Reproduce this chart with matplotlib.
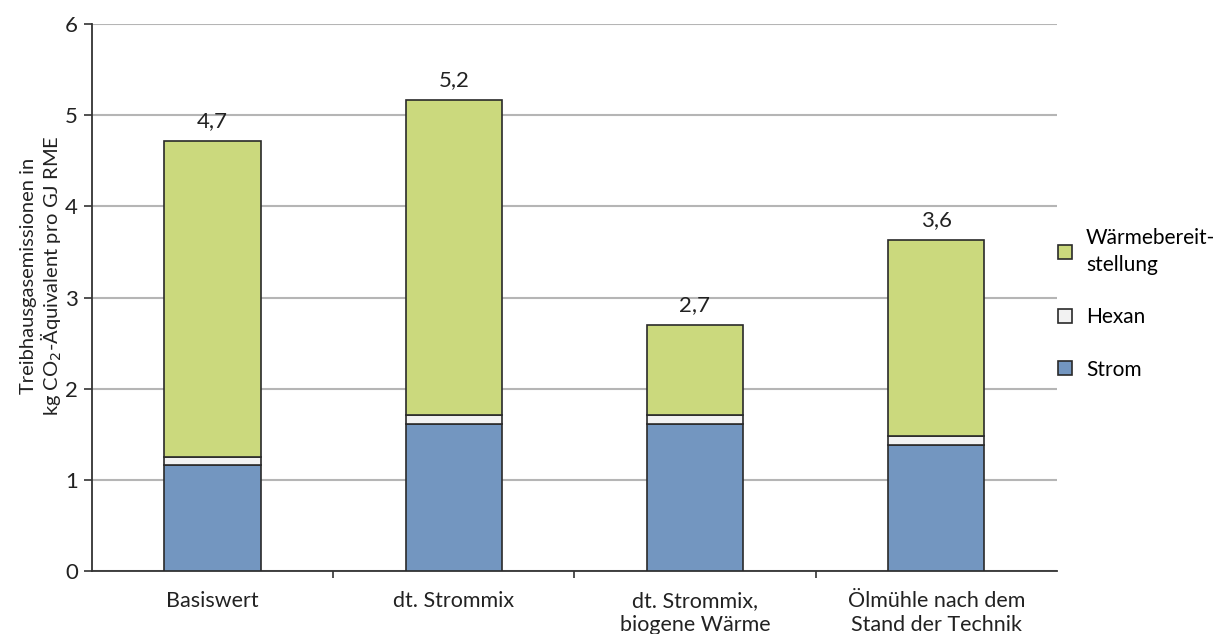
import matplotlib.pyplot as plt
from matplotlib.lines import Line2D
import numpy as np

plt.rcParams['font.family'] = ['Lato', 'DejaVu Sans']

# Szenarien und Beiträge (kg CO2-Äq. pro GJ RME)
szenarien = ["Basiswert", "dt. Strommix", "dt. Strommix,\nbiogene Wärme",
             "Ölmühle nach dem\nStand der Technik"]
strom = [1.16, 1.61, 1.61, 1.38]
hexan = [0.09, 0.10, 0.10, 0.10]
waerme = [3.47, 3.46, 0.99, 2.15]

farbe_strom = "#7396c0"
farbe_hexan = "#f2f2f2"
farbe_waerme = "#cbd97d"
kante = "#2a2a2a"

fig = plt.figure(figsize=(12.26, 6.34), dpi=100)
ax = fig.add_axes([0.075, 0.099, 0.787, 0.863])

x = np.arange(len(szenarien))
b = 0.4
ax.bar(x, strom, b, color=farbe_strom, edgecolor=kante, linewidth=1.2, zorder=3)
ax.bar(x, hexan, b, bottom=strom, color=farbe_hexan, edgecolor=kante, linewidth=1.2, zorder=3)
unten = np.add(strom, hexan)
ax.bar(x, waerme, b, bottom=unten, color=farbe_waerme, edgecolor=kante, linewidth=1.2, zorder=3)

summe = unten + np.array(waerme)
for xi, s in zip(x, summe):
    ax.annotate(f"{s:.1f}".replace(".", ","), (xi, s), xytext=(0, 7),
                textcoords="offset points", ha="center", va="bottom",
                fontsize=16, color="#222222")

ax.set_xlim(-0.5, len(szenarien) - 0.5)
ax.set_ylim(0, 6)
ax.set_yticks(range(7))
ax.yaxis.grid(True, color="#b5b5b5", linewidth=1.5, zorder=0)
ax.set_axisbelow(True)

ax.set_xticks(x)
ax.set_xticklabels(szenarien, fontsize=15.5, color="#222222", linespacing=1.3)
ax.tick_params(axis="x", which="major", length=0, pad=14)
ax.set_xticks(np.arange(-0.5, len(szenarien) + 0.5, 1)[1:-1], minor=True)
ax.tick_params(axis="x", which="minor", length=5, width=1.2, color="#333333")
ax.tick_params(axis="y", length=6, width=1.2, color="#333333", labelsize=16,
               labelcolor="#222222", pad=4)

for s in ["top", "right"]:
    ax.spines[s].set_visible(False)
for s in ["left", "bottom"]:
    ax.spines[s].set_color("#333333")
    ax.spines[s].set_linewidth(1.3)

ax.set_ylabel("Treibhausgasemissionen in\nkg CO$_2$-Äquivalent pro GJ RME",
              fontsize=14.5, color="#222222", linespacing=1.1)
ax.yaxis.set_label_coords(-0.029, 0.54)

handles = [
    Line2D([], [], marker="s", linestyle="none", markersize=9.5,
           markerfacecolor=farbe_waerme, markeredgecolor=kante, markeredgewidth=1.2),
    Line2D([], [], marker="s", linestyle="none", markersize=9.5,
           markerfacecolor=farbe_hexan, markeredgecolor=kante, markeredgewidth=1.2),
    Line2D([], [], marker="s", linestyle="none", markersize=9.5,
           markerfacecolor=farbe_strom, markeredgecolor=kante, markeredgewidth=1.2),
]
leg = fig.legend(handles, ["Wärmebereit-\nstellung", "Hexan", "Strom"],
                 loc="upper left", bbox_to_anchor=(0.845, 0.67), frameon=False,
                 fontsize=15, handlelength=1.0, handletextpad=0.5, labelspacing=1.55)
for t in leg.get_texts():
    t.set_linespacing(1.45)

fig.savefig("out.png", dpi=100)
